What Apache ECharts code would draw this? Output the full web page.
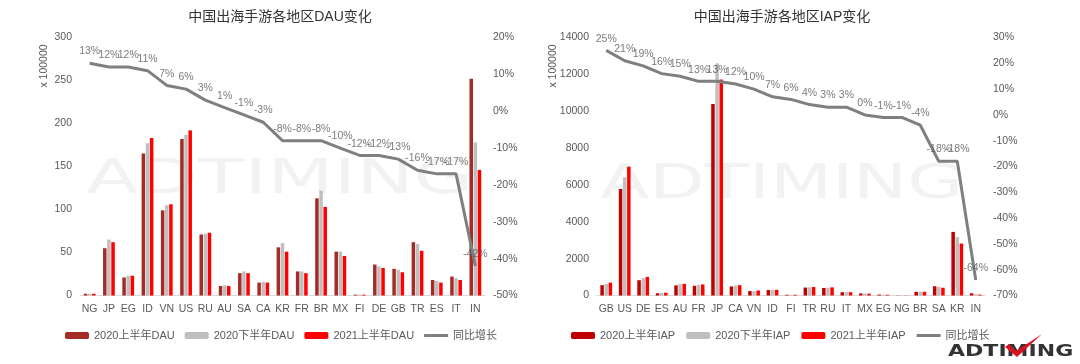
<!DOCTYPE html>
<html><head><meta charset="utf-8">
<script src="https://cdn.jsdelivr.net/npm/echarts@6/dist/echarts.min.js"></script>
<style>html,body{margin:0;padding:0;background:#fff}#c{width:1080px;height:364px}</style>
</head><body><div id="c"></div>
<script>
var dauCats = ['NG','JP','EG','ID','VN','US','RU','AU','SA','CA','KR','FR','BR','MX','FI','DE','GB','TR','ES','IT','IN'];
var dau2020H1 = [2,55,21,165,99,182,71,11,26,15,56,28,113,51,1,36,31,62,18,22,252];
var dau2020H2 = [2,65,23,177,105,187,72,12,28,16,61,28,122,51,1,34,30,60,17,20,178];
var dau2021H1 = [2,62,23,183,106,192,73,11,26,15,51,26,103,46,1,32,27,52,15,18,146];
var dauGrowth = [13,12,12,11,7,6,3,1,-1,-3,-8,-8,-8,-10,-12,-12,-13,-16,-17,-17,-42];

var iapCats = ['GB','US','DE','ES','AU','FR','JP','CA','VN','ID','FI','TR','RU','IT','MX','EG','NG','BR','SA','KR','IN'];
var iap2020H1 = [560,5780,830,120,550,530,10390,490,240,300,40,430,410,180,110,50,10,200,500,3450,120];
var iap2020H2 = [630,6410,940,140,620,580,12600,540,240,300,40,440,420,180,110,50,10,200,470,3170,70];
var iap2021H1 = [700,6990,1010,150,630,600,11720,560,270,310,40,460,440,180,100,40,10,200,420,2820,50];
var iapGrowth = [25,21,19,16,15,13,13,12,10,7,6,4,3,3,0,-1,-1,-4,-18,-18,-64];

var dauNames = ['2020上半年DAU','2020下半年DAU','2021上半年DAU','同比增长'];
var iapNames = ['2020上半年IAP','2020下半年IAP','2021上半年IAP','同比增长'];

var FONT = 'Liberation Sans, Arial, Noto Sans CJK SC, sans-serif';
var LBL = '#595959';
var LINE_ICON = 'path://M0,0 L24,0 L24,3 L0,3 Z';

function barSeries(name, data, color, xi, yi){
  return {name:name, type:'bar', xAxisIndex:xi, yAxisIndex:yi, data:data,
    barWidth:3.5, barGap:'18%', itemStyle:{color:color}, z:3};
}
function lineSeries(name, data, xi, yi){
  return {name:name, type:'line', xAxisIndex:xi, yAxisIndex:yi, data:data,
    symbol:'none', lineStyle:{color:'#7f7f7f', width:3}, itemStyle:{color:'#7f7f7f'}, z:4};
}
function labelSeries(data, xi, yi){
  return {name:'_lbl' + xi, type:'scatter', xAxisIndex:xi, yAxisIndex:yi, data:data,
    symbolSize:1, itemStyle:{color:'rgba(0,0,0,0)'}, z:5, silent:true,
    label:{show:true, position:'top', distance:6, formatter:'{c}%', color:LBL, fontSize:10.5, fontFamily:FONT}};
}
function xAx(cats, gi){
  return {type:'category', gridIndex:gi, data:cats,
    axisLine:{lineStyle:{color:'#d9d9d9', width:1}}, axisTick:{show:false},
    axisLabel:{color:LBL, fontSize:10.5, fontFamily:FONT, margin:8, interval:0}};
}
function yAx(gi, min, max, interval, fmt){
  return {type:'value', gridIndex:gi, min:min, max:max, interval:interval,
    axisLine:{show:false}, axisTick:{show:false}, splitLine:{show:false},
    axisLabel:{color:LBL, fontSize:10.5, fontFamily:FONT, margin:8, formatter:fmt}};
}
function legendData(names){
  return names.map(function(n, i){
    return i === 3 ? {name:n, icon:LINE_ICON} : {name:n};
  });
}
function plain(v){ return String(v); }
function pct(v){ return v + '%'; }

var chart = echarts.init(document.getElementById('c'), null, {renderer:'canvas'});
chart.setOption({
  backgroundColor:'#fff',
  animation:false,
  title:[
    {text:'中国出海手游各地区DAU变化', left:275, top:5, textAlign:'center',
     textStyle:{fontSize:14, fontWeight:'normal', color:'#333', fontFamily:FONT}},
    {text:'中国出海手游各地区IAP变化', left:777, top:5, textAlign:'center',
     textStyle:{fontSize:14, fontWeight:'normal', color:'#333', fontFamily:FONT}}
  ],
  grid:[
    {left:80, top:37.5, width:405, height:258},
    {left:597, top:37.5, width:388, height:258}
  ],
  legend:[
    {data:legendData(dauNames), left:60, top:325, itemWidth:24, itemHeight:7, itemGap:10,
     textStyle:{color:LBL, fontSize:11, fontFamily:FONT}},
    {data:legendData(iapNames), left:566, top:325, itemWidth:24, itemHeight:7, itemGap:11,
     textStyle:{color:LBL, fontSize:11, fontFamily:FONT}}
  ],
  xAxis:[xAx(dauCats,0), xAx(iapCats,1)],
  yAxis:[
    yAx(0, 0, 300, 50, plain),
    yAx(0, -50, 20, 10, pct),
    yAx(1, 0, 14000, 2000, plain),
    yAx(1, -70, 30, 10, pct)
  ],
  graphic:[
    {type:'text', z:-10, x:86, y:181, scaleX:1.6,
     style:{text:'ADTIMING', fill:'#f2f2f2', font:'normal 48px DejaVu Sans', verticalAlign:'middle'}},
    {type:'text', z:-10, x:600, y:186, scaleX:1.5,
     style:{text:'ADTIMING', fill:'#f2f2f2', font:'normal 48px DejaVu Sans', verticalAlign:'middle'}},
    {type:'text', x:44, y:66, rotation:Math.PI/2,
     style:{text:'x 100000', fill:LBL, font:'10.5px Liberation Sans', align:'center', verticalAlign:'middle'}},
    {type:'text', x:553, y:66, rotation:Math.PI/2,
     style:{text:'x 100000', fill:LBL, font:'10.5px Liberation Sans', align:'center', verticalAlign:'middle'}},
    {type:'text', x:948, y:352, scaleX:1.47,
     style:{text:'ADTIMING', fill:'#333', font:'bold 15px DejaVu Sans', verticalAlign:'middle'}},
    {type:'polygon', shape:{points:[[1005,347],[1009,344],[1016,351],[1042,334],[1017,357]]},
     style:{fill:'#d9141e'}}
  ],
  series:[
    barSeries(dauNames[0], dau2020H1, '#a62b27', 0, 0),
    barSeries(dauNames[1], dau2020H2, '#bfbfbf', 0, 0),
    barSeries(dauNames[2], dau2021H1, '#ff0000', 0, 0),
    lineSeries(dauNames[3], dauGrowth, 0, 1),
    labelSeries(dauGrowth, 0, 1),
    barSeries(iapNames[0], iap2020H1, '#c00000', 1, 2),
    barSeries(iapNames[1], iap2020H2, '#bfbfbf', 1, 2),
    barSeries(iapNames[2], iap2021H1, '#ff0000', 1, 2),
    lineSeries(iapNames[3], iapGrowth, 1, 3),
    labelSeries(iapGrowth, 1, 3)
  ]
});
</script></body></html>
